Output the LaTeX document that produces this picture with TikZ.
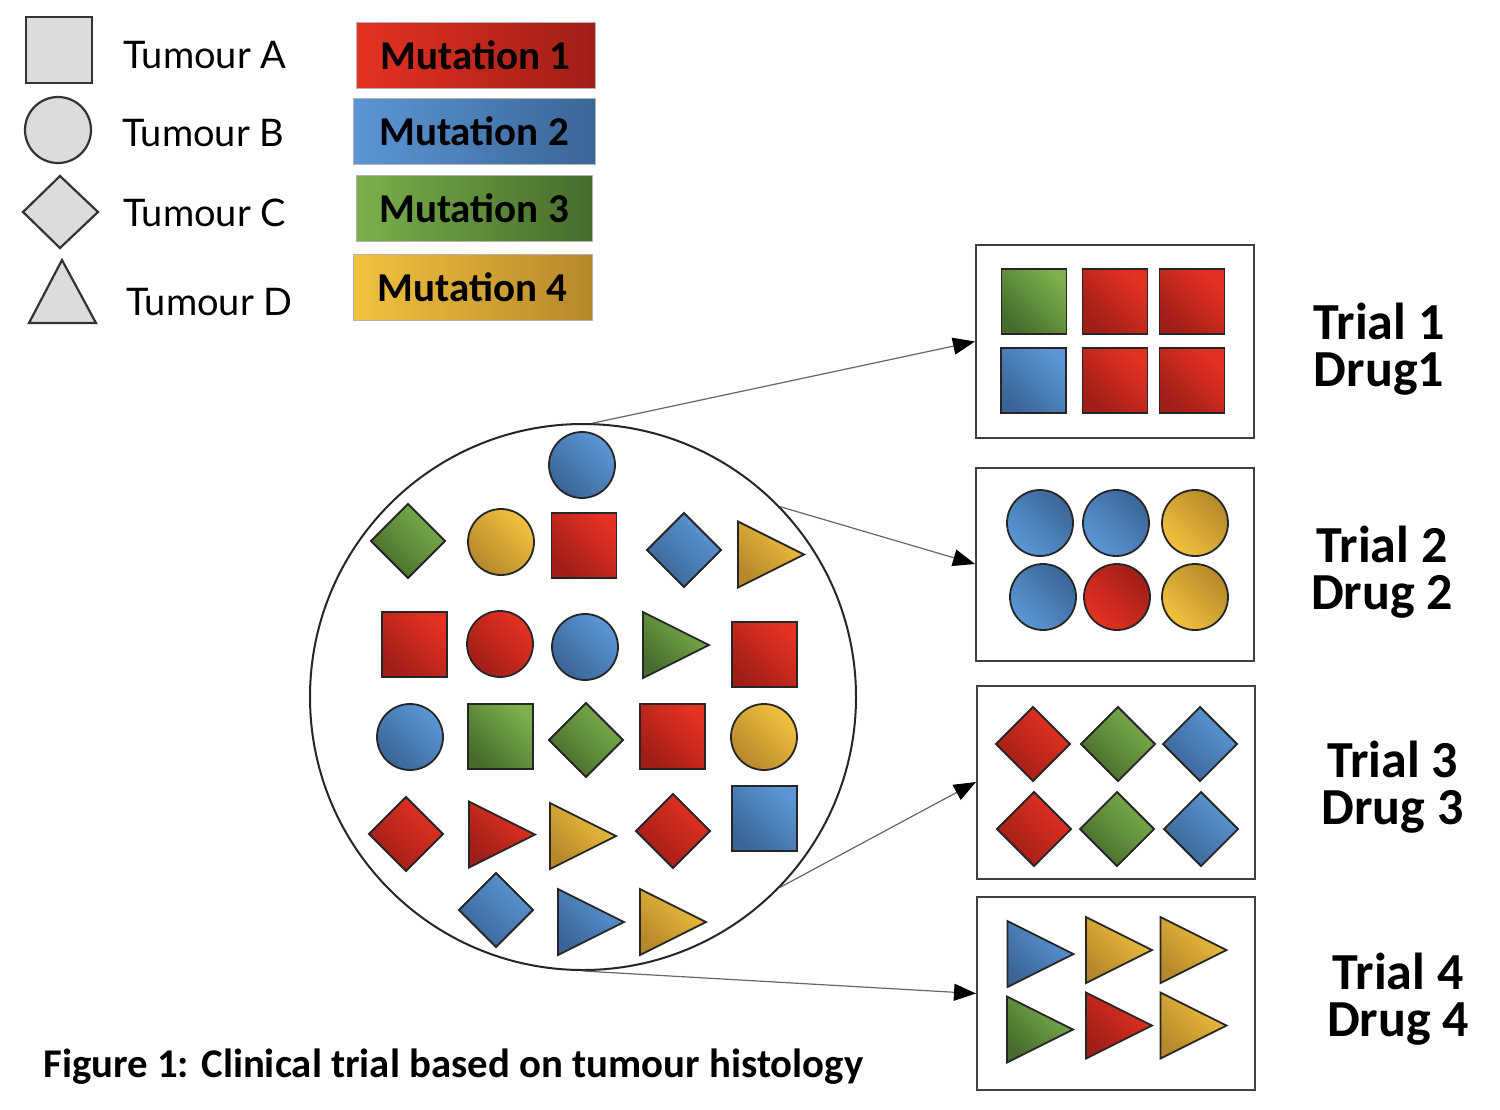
\documentclass[tikz,border=0pt]{standalone}
\usepackage{fontspec}
\setmainfont{Carlito}
\newfontfamily\legfont{Lato}
\usetikzlibrary{arrows.meta,calc}
\definecolor{rL}{HTML}{E53122}
\definecolor{rD}{HTML}{A01E18}
\definecolor{bL}{HTML}{5B96D6}
\definecolor{bD}{HTML}{3B6597}
\definecolor{gL}{HTML}{7BB04B}
\definecolor{gD}{HTML}{476B2D}
\definecolor{yL}{HTML}{F2C23E}
\definecolor{yD}{HTML}{B5882B}
\definecolor{legfill}{HTML}{DCDCDC}
\newcommand\SQ[3]{\path[#1] (#2-32.5,#3-32.5) rectangle (#2+32.5,#3+32.5);}
\newcommand\CI[3]{\path[#1] (#2,#3) circle (33);}
\newcommand\DI[3]{\path[#1] (#2-37,#3) -- (#2,#3-37) -- (#2+37,#3) -- (#2,#3+37) -- cycle;}
\newcommand\TR[3]{\path[#1] (#2-33,#3-33) -- (#2+33,#3) -- (#2-33,#3+33) -- cycle;}
\begin{document}
\begin{tikzpicture}[x=0.5pt,y=-0.5pt,
  shp/.style={draw=black!85, line width=0.9pt, shade},
  R/.style={shp, left color=rD, right color=rL, shading angle=135},
  B/.style={shp, left color=bD, right color=bL, shading angle=135},
  G/.style={shp, left color=gD, right color=gL, shading angle=135},
  Y/.style={shp, left color=yD, right color=yL, shading angle=135},
  Rr/.style={shp, left color=rL, right color=rD, shading angle=135},
  Br/.style={shp, left color=bL, right color=bD, shading angle=135},
  Yr/.style={shp, left color=yL, right color=yD, shading angle=135},
  leg/.style={draw=black!80, fill=legfill, line width=1.1pt},
  tum/.style={font=\legfont\fontsize{19}{22}\selectfont, inner sep=0pt, anchor=base west},
  mut/.style={draw=black!30, line width=0.5pt, minimum width=119.5pt, minimum height=33pt, inner sep=0pt,
     font=\bfseries\fontsize{20.5}{24}\selectfont},
  tbox/.style={draw=black!75, line width=1pt, minimum width=139pt, minimum height=96.5pt, inner sep=0pt},
  tlab/.style={font=\bfseries\fontsize{26}{23.5}\selectfont, inner sep=0pt, anchor=base, align=center},
  conn/.style={draw=black!60, line width=0.6pt, -{Triangle[length=11pt,width=8.5pt,fill=black,color=black]}}
]
\useasboundingbox (0,0) rectangle (1500,1109);
\fill[white] (0,0) rectangle (1500,1109);

% legend shapes
\path[leg] (26,17) rectangle (92,83);
\path[leg] (58,130) circle (33);
\path[leg] (23,212) -- (60,176) -- (98,212) -- (60,248) -- cycle;
\path[leg] (62,260) -- (96,323) -- (29,323) -- cycle;
\node[tum] (la) at (123,68) {Tumour A};
\node[tum] (lb) at (122,146) {Tumour B};
\node[tum] (lc) at (123,226) {Tumour C};
\node[tum] (ld) at (126,315) {Tumour D};

% mutation legend
\node[mut, left color=rL, right color=rD] (m1) at (475.5,55) {Mutation 1};
\node[mut, left color=bL, right color=bD, minimum width=121pt] (m2) at (474,131) {Mutation 2};
\node[mut, left color=gL, right color=gD, minimum width=118pt] (m3) at (474,208) {Mutation 3};
\node[mut, left color=yL, right color=yD] (m4) at (472.5,287) {Mutation 4};

% pool
\node[draw=black!85, line width=1pt, circle, minimum size=273pt, inner sep=0pt] (pool) at (583,697) {};
\CI{B}{582}{465}
\DI{G}{408}{541}
\CI{Y}{501}{542}
\SQ{R}{584}{545.5}
\DI{B}{684}{550}
\TR{Y}{771}{554.5}
\SQ{R}{414.5}{644.5}
\CI{R}{500}{644}
\CI{B}{585}{647}
\TR{G}{676}{645}
\SQ{R}{764.5}{654.5}
\CI{B}{410}{737}
\SQ{G}{500.5}{736.5}
\DI{G}{586}{740}
\SQ{R}{672.5}{736.5}
\CI{Y}{764}{737}
\DI{R}{406}{834}
\TR{R}{502}{834.5}
\TR{Y}{583}{836}
\DI{R}{673}{831}
\SQ{B}{764.5}{818.5}
\DI{B}{496}{910}
\TR{B}{591}{922}
\TR{Y}{673}{922}

% trial boxes
\node[tbox] (t1) at (1115,341.5) {};
\node[tbox] (t2) at (1115,564) {};
\node[tbox] (t3) at (1116,782) {};
\node[tbox] (t4) at (1116,993.5) {};

\SQ{G}{1034}{301.5}
\SQ{R}{1115}{301.5}
\SQ{R}{1192}{301.5}
\SQ{B}{1033.5}{380.5}
\SQ{R}{1115}{380.5}
\SQ{R}{1192}{380.5}

\CI{Br}{1040}{523}
\CI{Br}{1116}{523}
\CI{Yr}{1195}{523}
\CI{Br}{1043}{597}
\CI{Rr}{1117}{597}
\CI{Yr}{1195}{597}

\DI{R}{1033}{744}
\DI{G}{1118}{744}
\DI{B}{1200}{744}
\DI{R}{1034}{829}
\DI{G}{1117}{829}
\DI{B}{1201}{829}

\TR{B}{1040.5}{954}
\TR{Y}{1119}{950}
\TR{Y}{1193.5}{950}
\TR{G}{1040}{1029.5}
\TR{R}{1119}{1025.5}
\TR{Y}{1193.5}{1025.5}

% trial labels
\node[tlab] (tl1) at (1379,386) {Trial 1\\Drug1};
\node[tlab] (tl2) at (1382,609) {Trial 2\\Drug 2};
\node[tlab] (tl3) at (1392.5,824) {Trial 3\\Drug 3};
\node[tlab] (tl4) at (1398,1036) {Trial 4\\Drug 4};

% connectors
\draw[conn] (pool.88.5) -- (t1.west);
\draw[conn] (pool.44) -- (t2.west);
\draw[conn] (pool.-44) -- (t3.west);
\draw[conn] (pool.-90) -- (t4.west);

% caption
\node[font=\bfseries\fontsize{20.4}{22}\selectfont, inner sep=0pt, anchor=base west] (cap) at (43,1077)
  {Figure 1: Clinical trial based on tumour histology};
\end{tikzpicture}
\end{document}
